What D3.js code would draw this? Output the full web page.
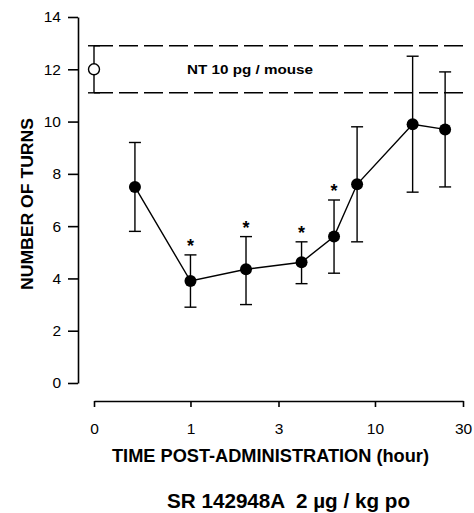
<!DOCTYPE html>
<html>
<head>
<meta charset="utf-8">
<script src="https://cdn.jsdelivr.net/npm/d3@7"></script>
<style>
  body { margin: 0; background: #fff; }
  text { font-family: "Liberation Sans", Arial, sans-serif; fill: #000; }
</style>
</head>
<body>
<div id="container"></div>
<script>
// time post-administration (hour), 0 = control
const hours = [0.5, 1, 2, 4, 6, 8, 16, 24]
const turns = [7.5, 3.9, 4.35, 4.62, 5.6, 7.6, 9.9, 9.7]
const upper = [9.2, 4.9, 5.6, 5.4, 7.0, 9.8, 12.5, 11.9]
const lower = [5.8, 2.9, 3.0, 3.8, 4.2, 5.4, 7.3, 7.5]
const signif = [false, true, true, true, true, false, false, false]

const control = { mean: 12.0, upper: 12.9, lower: 11.1 }
const xTicks = [0, 1, 3, 10, 30]
const yTicks = [0, 2, 4, 6, 8, 10, 12, 14]

// where "0" sits on the log axis (axis break)
const zeroAt = 0.3

const svg = d3.select('#container').append('svg')
  .attr('width', 474)
  .attr('height', 513)

const x = d3.scaleLog()
  .domain([zeroAt, 30])
  .range([94, 463])
const xp = t => t === 0 ? x(zeroAt) : x(t)

const y = d3.scaleLinear()
  .domain([0, 14])
  .range([383, 17])

// y axis
const yAxis = svg.append('g')
  .attr('transform', 'translate(78,0)')
  .call(d3.axisLeft(y).tickValues(yTicks).tickSize(10).tickSizeOuter(0).tickPadding(7))
yAxis.selectAll('path, line').attr('stroke', '#000').attr('stroke-width', 1.6)
yAxis.selectAll('text').style('font-size', '15.5px')

// x axis
const xAxis = svg.append('g')
  .attr('transform', 'translate(0,401)')
  .call(d3.axisBottom(x)
    .tickValues(xTicks.map(t => t === 0 ? zeroAt : t))
    .tickFormat((d, i) => xTicks[i])
    .tickSize(6).tickSizeOuter(0).tickPadding(16))
xAxis.selectAll('path, line').attr('stroke', '#000').attr('stroke-width', 1.6)
xAxis.selectAll('text').style('font-size', '15.5px')

// control band (dashed)
const dash = '19,6'
;[control.upper, control.lower].forEach(v => {
  svg.append('line')
    .attr('x1', xp(0)).attr('x2', x(30))
    .attr('y1', y(v)).attr('y2', y(v))
    .attr('stroke', '#000')
    .attr('stroke-width', 1.4)
    .attr('stroke-dasharray', dash)
})

svg.append('text')
  .attr('x', 187)
  .attr('y', 74)
  .attr('textLength', 126)
  .attr('lengthAdjust', 'spacingAndGlyphs')
  .style('font-size', '13.5px')
  .style('font-weight', 'bold')
  .text('NT 10 pg / mouse')

const cap = 6

// control error bar + open circle
svg.append('line')
  .attr('x1', xp(0)).attr('x2', xp(0))
  .attr('y1', y(control.upper)).attr('y2', y(control.lower))
  .attr('stroke', '#000').attr('stroke-width', 1.4)
;[control.upper, control.lower].forEach(v => {
  svg.append('line')
    .attr('x1', xp(0) - cap).attr('x2', xp(0) + cap)
    .attr('y1', y(v)).attr('y2', y(v))
    .attr('stroke', '#000').attr('stroke-width', 1.4)
})
svg.append('circle')
  .attr('cx', xp(0)).attr('cy', y(control.mean))
  .attr('r', 5.5)
  .attr('fill', '#fff').attr('stroke', '#000').attr('stroke-width', 1.4)

const data = hours.map((h, i) => ({
  h: h, v: turns[i], hi: upper[i], lo: lower[i], star: signif[i]
}))

// error bars
const eb = svg.selectAll('.eb')
  .data(data)
  .enter()
  .append('g')
  .attr('class', 'eb')
eb.append('line')
  .attr('x1', d => x(d.h)).attr('x2', d => x(d.h))
  .attr('y1', d => y(d.hi)).attr('y2', d => y(d.lo))
  .attr('stroke', '#000').attr('stroke-width', 1.4)
eb.append('line')
  .attr('x1', d => x(d.h) - cap).attr('x2', d => x(d.h) + cap)
  .attr('y1', d => y(d.hi)).attr('y2', d => y(d.hi))
  .attr('stroke', '#000').attr('stroke-width', 1.4)
eb.append('line')
  .attr('x1', d => x(d.h) - cap).attr('x2', d => x(d.h) + cap)
  .attr('y1', d => y(d.lo)).attr('y2', d => y(d.lo))
  .attr('stroke', '#000').attr('stroke-width', 1.4)

// line
svg.append('path')
  .datum(data)
  .attr('fill', 'none')
  .attr('stroke', '#000')
  .attr('stroke-width', 1.4)
  .attr('d', d3.line().x(d => x(d.h)).y(d => y(d.v)))

svg.selectAll('.pt')
  .data(data)
  .enter()
  .append('circle')
  .attr('class', 'pt')
  .attr('cx', d => x(d.h))
  .attr('cy', d => y(d.v))
  .attr('r', 6)
  .attr('fill', '#000')

// significance stars
svg.selectAll('.star')
  .data(data.filter(d => d.star))
  .enter()
  .append('text')
  .attr('class', 'star')
  .attr('x', d => x(d.h))
  .attr('y', d => y(d.hi) - 3)
  .attr('text-anchor', 'middle')
  .style('font-size', '18px')
  .style('font-weight', 'bold')
  .text('*')

// titles
svg.append('text')
  .attr('transform', 'translate(33,204) rotate(-90)')
  .attr('text-anchor', 'middle')
  .attr('textLength', 172)
  .attr('lengthAdjust', 'spacingAndGlyphs')
  .style('font-size', '17px')
  .style('font-weight', 'bold')
  .text('NUMBER OF TURNS')

svg.append('text')
  .attr('x', 112)
  .attr('y', 462)
  .attr('textLength', 317)
  .attr('lengthAdjust', 'spacingAndGlyphs')
  .style('font-size', '17.5px')
  .style('font-weight', 'bold')
  .text('TIME POST-ADMINISTRATION (hour)')

svg.append('text')
  .attr('x', 167)
  .attr('y', 508)
  .attr('textLength', 243)
  .attr('lengthAdjust', 'spacingAndGlyphs')
  .style('font-size', '19.5px')
  .style('font-weight', 'bold')
  .attr('xml:space', 'preserve')
  .text('SR 142948A  2 µg / kg po')
</script>
</body>
</html>
